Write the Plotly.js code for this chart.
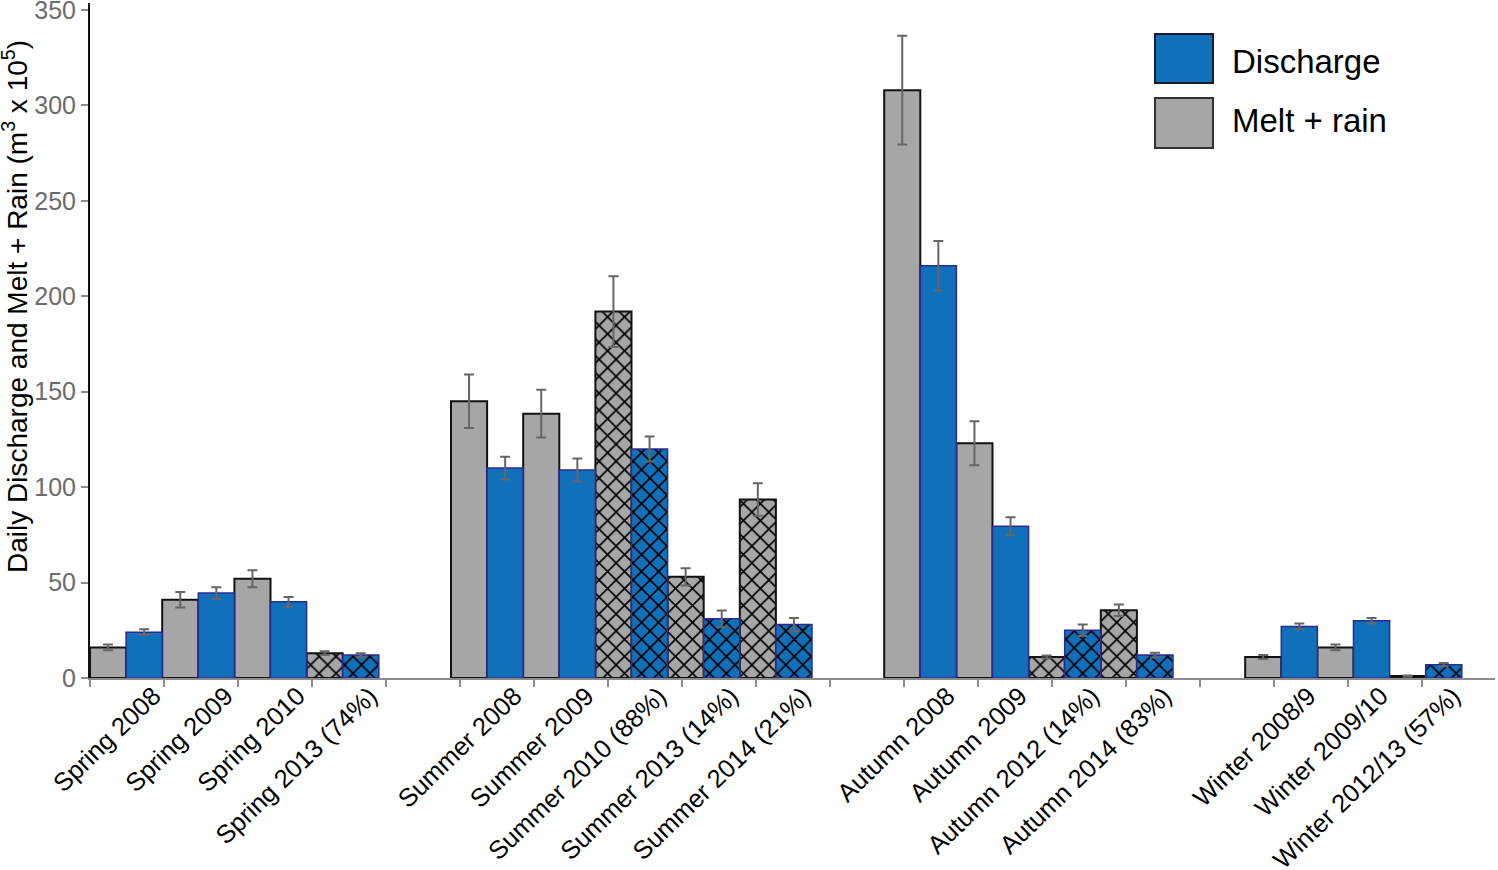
<!DOCTYPE html>
<html>
<head>
<meta charset="utf-8">
<script src="https://cdn.plot.ly/plotly-3.0.1.min.js"></script>
<style>
  html, body { margin: 0; padding: 0; background: white; }
  #chart1 { width: 1498px; height: 870px; }
</style>
</head>
<body>
<div id="chart1"></div>
<script>
// categories, the season each belongs to (a blank slot is left between seasons)
const labels = [
    'Spring 2008', 'Spring 2009', 'Spring 2010', 'Spring 2013 (74%)',
    'Summer 2008', 'Summer 2009', 'Summer 2010 (88%)', 'Summer 2013 (14%)', 'Summer 2014 (21%)',
    'Autumn 2008', 'Autumn 2009', 'Autumn 2012 (14%)', 'Autumn 2014 (83%)',
    'Winter 2008/9', 'Winter 2009/10', 'Winter 2012/13 (57%)'
]
const season = [0, 0, 0, 0, 1, 1, 1, 1, 1, 2, 2, 2, 2, 3, 3, 3]
// incomplete records (shown hatched)
const partial = [false, false, false, true, false, false, true, true, true, false, false, true, true, false, false, true]

const meltRain    = [16, 41, 52, 13,   145, 138.5, 192, 53, 93.5,   308, 123, 11, 35.5,   11, 16, 1]
const meltRainErr = [1.5, 4, 4.5, 1,   14, 12.5, 18.5, 4.5, 8.5,   28.5, 11.5, 0.8, 3,   1, 1.5, 0.3]
const discharge    = [24, 44.5, 40, 12,   110, 109, 120, 31, 28,   216, 79.5, 25, 12,   27, 30, 7]
const dischargeErr = [1.5, 3, 2.5, 1,   6, 6, 6.6, 4.4, 3.5,   13, 4.7, 3, 1.2,   1.5, 1.5, 0.8]

const yTicks = [0, 50, 100, 150, 200, 250, 300, 350]

const grayFill = '#a6a6a6'
const blueFill = '#1170ba'
const fontFam = '"Liberation Sans", Arial, Helvetica, sans-serif'

var x = labels.map((l, i) => i + season[i])

function makeTrace(name, y, err, fill, lineColor, lineWidth) {
    return {
        type: 'bar',
        name: name,
        x: x,
        y: y,
        marker: {
            color: fill,
            line: {color: lineColor, width: lineWidth},
            pattern: {
                shape: partial.map(p => p ? 'x' : ''),
                fgcolor: 'black',
                bgcolor: fill,
                size: 12,
                solidity: 0.25,
            },
        },
        error_y: {
            type: 'data',
            array: err,
            visible: true,
            color: '#666666',
            thickness: 2,
            width: 5,
        },
        hoverinfo: 'x+y',
    }
}

var traces = [
    makeTrace('Melt + rain', meltRain, meltRainErr, grayFill, '#111111', 2),
    makeTrace('Discharge', discharge, dischargeErr, blueFill, '#2b2b8f', 1.5),
]

// tick marks of the original sit at a slightly wider pitch than the bars
var boundaryTicks = []
for (var k = 0; k <= 19; k++) { boundaryTicks.push(-0.5 + k * 1.025) }

// labels in the original end a little right of the category centre
var labelPos = x.map(v => v + 0.38)

// legend and y title drawn by hand so they sit where the original has them
function px2x(p) { return (p - 90) / 1405 }
function py2y(p) { return 1 - (p - 3) / 675 }

var legendShapes = [
    {type: 'rect', xref: 'paper', yref: 'paper', x0: px2x(1155), x1: px2x(1213), y0: py2y(83), y1: py2y(34),
        fillcolor: blueFill, line: {color: '#1a1a2a', width: 2}},
    {type: 'rect', xref: 'paper', yref: 'paper', x0: px2x(1155), x1: px2x(1213), y0: py2y(148), y1: py2y(98),
        fillcolor: grayFill, line: {color: '#333333', width: 2}},
]
var annots = [
    {xref: 'paper', yref: 'paper', x: px2x(1230), y: py2y(61), xanchor: 'left', yanchor: 'middle',
        text: 'Discharge', showarrow: false, font: {family: fontFam, size: 33, color: 'black'}},
    {xref: 'paper', yref: 'paper', x: px2x(1230), y: py2y(120), xanchor: 'left', yanchor: 'middle',
        text: 'Melt + rain', showarrow: false, font: {family: fontFam, size: 33, color: 'black'}},
    {xref: 'paper', yref: 'paper', x: px2x(15), y: py2y(307), xanchor: 'center', yanchor: 'middle',
        textangle: -90, showarrow: false,
        text: 'Daily Discharge and Melt + Rain (m<sup>3</sup> x 10<sup>5</sup>)',
        font: {family: fontFam, size: 28, color: 'black'}},
]

var layout = {
    width: 1498,
    height: 870,
    barmode: 'group',
    bargap: 0,
    bargroupgap: 0,
    showlegend: false,
    plot_bgcolor: 'white',
    paper_bgcolor: 'white',
    margin: {l: 90, r: 3, t: 3, b: 192},
    font: {family: fontFam},
    xaxis: {
        range: [-0.5, 18.96],
        tickmode: 'array',
        tickvals: labelPos,
        ticktext: labels,
        tickangle: -44,
        ticks: '',
        ticklabelstandoff: -9,
        tickfont: {family: fontFam, size: 25.5, color: 'black'},
        showline: true,
        linecolor: '#8c8c8c',
        linewidth: 2,
        showgrid: false,
        zeroline: false,
        fixedrange: true,
        minor: {
            tickmode: 'array',
            tickvals: boundaryTicks,
            ticks: 'outside',
            ticklen: 7,
            tickwidth: 2,
            tickcolor: '#8c8c8c',
            showgrid: false,
        },
    },
    yaxis: {
        range: [0, 353.7],
        tickmode: 'array',
        tickvals: yTicks,
        ticks: 'outside',
        ticklen: 7,
        tickwidth: 2,
        tickcolor: '#8c8c8c',
        ticklabeloverflow: 'allow',
        tickfont: {family: fontFam, size: 25, color: '#6b6b6b'},
        showline: true,
        linecolor: '#111111',
        linewidth: 2,
        showgrid: false,
        zeroline: false,
        fixedrange: true,
    },
    shapes: legendShapes,
    annotations: annots,
}

Plotly.newPlot('chart1', traces, layout, {displayModeBar: false, staticPlot: true})
</script>
</body>
</html>
